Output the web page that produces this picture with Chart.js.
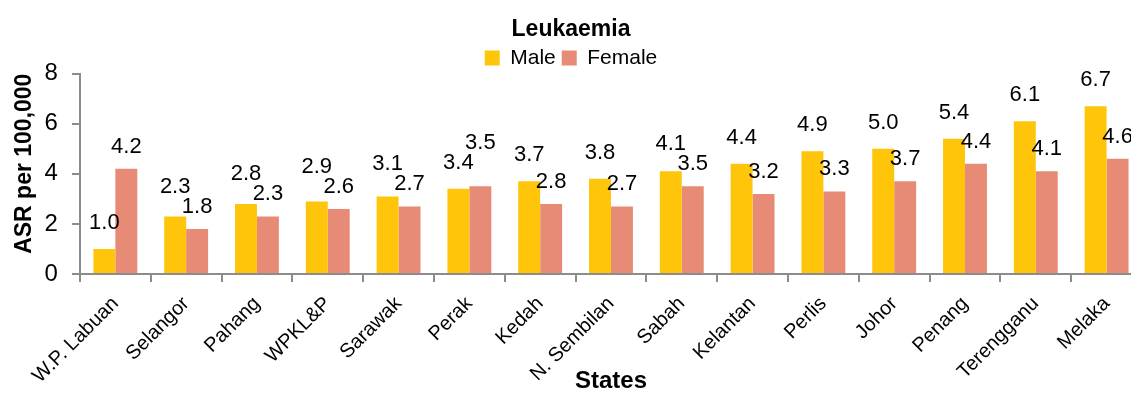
<!DOCTYPE html>
<html>
<head>
<meta charset="utf-8">
<script src="https://cdn.jsdelivr.net/npm/chart.js@4.4.0/dist/chart.umd.min.js"></script>
<style>
  html, body { margin: 0; padding: 0; background: #fff; overflow: hidden; }
  #wrap { width: 1143px; height: 396px; }
</style>
</head>
<body>
<div id="wrap"><canvas id="chart"></canvas></div>
<script>
// DATA
const states = ["W.P. Labuan", "Selangor", "Pahang", "WPKL&P", "Sarawak", "Perak", "Kedah",
  "N. Sembilan", "Sabah", "Kelantan", "Perlis", "Johor", "Penang", "Terengganu", "Melaka"];
const male = [1.0, 2.3, 2.8, 2.9, 3.1, 3.4, 3.7, 3.8, 4.1, 4.4, 4.9, 5.0, 5.4, 6.1, 6.7];
const female = [4.2, 1.8, 2.3, 2.6, 2.7, 3.5, 2.8, 2.7, 3.5, 3.2, 3.3, 3.7, 4.4, 4.1, 4.6];
const yTicks = [0, 2, 4, 6, 8];

const FONT = "'Liberation Sans', Arial, sans-serif";
const AXIS = "#8c8c8c";

// value labels above each bar; when the two labels of a state would
// collide, the label of the taller bar is lifted clear of the other one
const valueLabels = {
  id: "valueLabels",
  afterDatasetsDraw(chart) {
    const ctx = chart.ctx;
    const gaps = [20, 16];
    const minSep = 20;
    const mMeta = chart.getDatasetMeta(0).data;
    const fMeta = chart.getDatasetMeta(1).data;
    ctx.save();
    ctx.font = "22px " + FONT;
    ctx.fillStyle = "#000";
    ctx.textAlign = "center";
    ctx.textBaseline = "alphabetic";
    states.forEach((s, j) => {
      const mb = mMeta[j], fb = fMeta[j];
      let my = mb.y - gaps[0];
      let fy = fb.y - gaps[1];
      if (Math.abs(my - fy) < minSep) {
        if (male[j] >= female[j]) my = fy - minSep;
        else fy = my - minSep;
      }
      ctx.fillText(male[j].toFixed(1), mb.x, my);
      ctx.fillText(female[j].toFixed(1), fb.x, fy);
    });
    ctx.restore();
  }
};

// legend box a little shorter so the plot starts right under it
const tightLegend = {
  id: "tightLegend",
  beforeInit(chart) {
    const fit = chart.legend.fit;
    chart.legend.fit = function () {
      fit.call(this);
      this.height -= 5;
    };
  }
};

new Chart(document.getElementById("chart"), {
  type: "bar",
  data: {
    labels: states,
    datasets: [
      { label: "Male", data: male, backgroundColor: "#FFC50B" },
      { label: "Female", data: female, backgroundColor: "#E78B77" }
    ]
  },
  options: {
    responsive: true,
    maintainAspectRatio: false,
    animation: false,
    layout: { padding: { left: 0, right: 1, top: 0, bottom: 0 } },
    datasets: { bar: { categoryPercentage: 0.62, barPercentage: 1.0 } },
    plugins: {
      title: {
        display: true,
        text: "Leukaemia",
        color: "#000",
        font: { family: FONT, size: 23, weight: "bold" },
        padding: { top: 16, bottom: -2 }
      },
      legend: {
        labels: {
          color: "#000",
          font: { family: FONT, size: 21 },
          boxWidth: 15,
          boxHeight: 15,
          padding: 6
        }
      },
      tooltip: { enabled: false }
    },
    scales: {
      x: {
        grid: { drawOnChartArea: false, drawTicks: true, tickLength: 8, color: AXIS, lineWidth: 2 },
        border: { display: true, color: AXIS, width: 2 },
        ticks: {
          color: "#000",
          font: { family: FONT, size: 20 },
          minRotation: 45,
          maxRotation: 45,
          padding: 10,
          autoSkip: false
        },
        title: {
          display: true,
          text: "States",
          color: "#000",
          font: { family: FONT, size: 24, weight: "bold" },
          padding: { top: -31, bottom: 0 }
        }
      },
      y: {
        min: 0,
        max: 8,
        afterBuildTicks(axis) { axis.ticks = yTicks.map(v => ({ value: v })); },
        grid: { drawOnChartArea: false, drawTicks: true, tickLength: 8, color: AXIS, lineWidth: 2 },
        border: { display: true, color: AXIS, width: 2 },
        ticks: {
          color: "#000",
          font: { family: FONT, size: 24 },
          padding: 14
        },
        title: {
          display: true,
          text: "ASR per 100,000",
          align: "end",
          color: "#000",
          font: { family: FONT, size: 23, weight: "bold" },
          padding: { top: 11, bottom: -8 }
        }
      }
    }
  },
  plugins: [valueLabels, tightLegend]
});
</script>
</body>
</html>
